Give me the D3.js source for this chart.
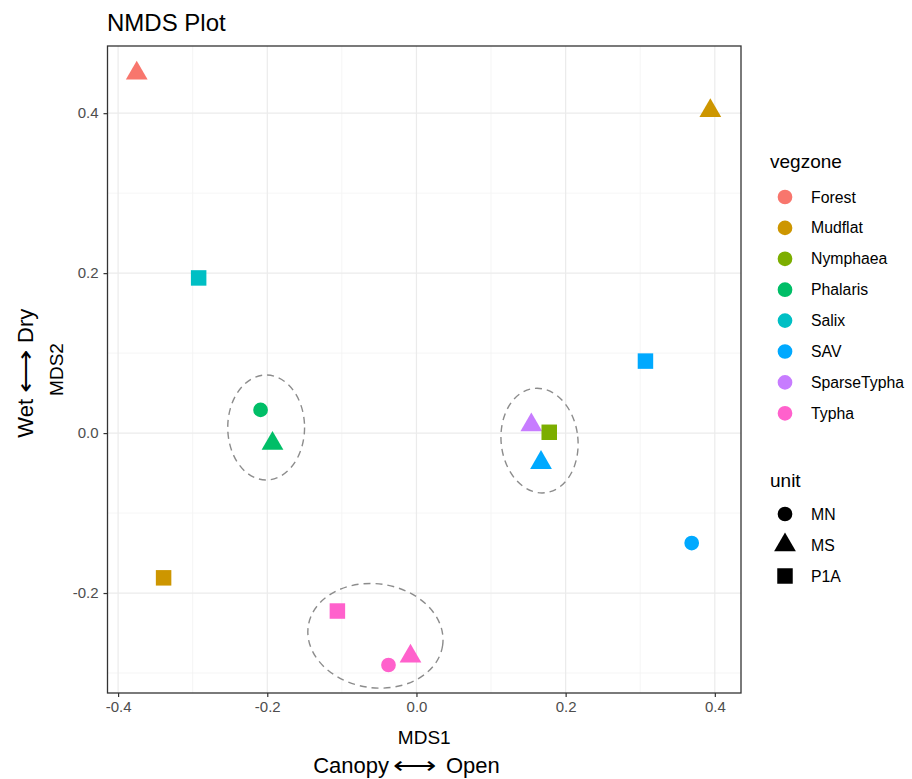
<!DOCTYPE html>
<html>
<head>
<meta charset="utf-8">
<script src="https://cdn.jsdelivr.net/npm/d3@7"></script>
<style>
  body { margin: 0; background: #fff; }
  svg { font-family: "Liberation Sans", Arial, sans-serif; }
</style>
</head>
<body>
<svg id="chart" width="912" height="779"></svg>
<script>
// NMDS site scores
const vegzone = ["Forest", "Mudflat", "Salix", "SAV", "Phalaris", "Phalaris", "SparseTypha", "Nymphaea", "SAV", "SAV", "Mudflat", "Typha", "Typha", "Typha"];
const unit    = ["MS", "MS", "P1A", "P1A", "MN", "MS", "MS", "P1A", "MS", "MN", "P1A", "P1A", "MN", "MS"];
const mds1    = [-0.375, 0.394, -0.292, 0.307, -0.209, -0.193, 0.154, 0.178, 0.167, 0.369, -0.339, -0.106, -0.0375, -0.008];
const mds2    = [0.450, 0.403, 0.194, 0.090, 0.029, -0.013, 0.010, 0.001, -0.037, -0.1375, -0.181, -0.2225, -0.290, -0.279];

// group ellipses: centre, semi-axes (data units), rotation in degrees
const ellCx  = [-0.2015, 0.165, -0.055];
const ellCy  = [0.007, -0.0094, -0.2535];
const ellRx  = [0.0515, 0.0515, 0.091];
const ellRy  = [0.0656, 0.0656, 0.065];
const ellRot = [0, -6, 8];

const vegLevels  = ["Forest", "Mudflat", "Nymphaea", "Phalaris", "Salix", "SAV", "SparseTypha", "Typha"];
const vegColors  = ["#F8766D", "#CD9600", "#7CAE00", "#00BE67", "#00BFC4", "#00A9FF", "#C77CFF", "#FF61CC"];
const unitLevels = ["MN", "MS", "P1A"];

const xTicks = [-0.4, -0.2, 0.0, 0.2, 0.4];
const yTicks = [-0.2, 0.0, 0.2, 0.4];
const xMinor = [-0.3, -0.1, 0.1, 0.3];
const yMinor = [-0.3, -0.1, 0.1, 0.3];

const svg = d3.select("#chart");
const panel = { left: 107.5, right: 741, top: 46, bottom: 693 };

const x = d3.scaleLinear().domain([-0.4142, 0.4351]).range([panel.left, panel.right]);
const y = d3.scaleLinear().domain([-0.325, 0.484]).range([panel.bottom, panel.top]);
const color = d3.scaleOrdinal().domain(vegLevels).range(vegColors);

// symbol per unit
const symType = { MN: d3.symbolCircle, MS: d3.symbolTriangle, P1A: d3.symbolSquare };
const symSize = { MN: 170, MS: 205, P1A: 240 };
function symPath(u) {
  return d3.symbol().type(symType[u]).size(symSize[u])();
}

// panel background and grid
const g = svg.append("g");
g.append("rect")
  .attr("x", panel.left).attr("y", panel.top)
  .attr("width", panel.right - panel.left).attr("height", panel.bottom - panel.top)
  .attr("fill", "#fff");

g.selectAll(".xminor").data(xMinor).join("line")
  .attr("x1", d => x(d)).attr("x2", d => x(d))
  .attr("y1", panel.top).attr("y2", panel.bottom)
  .attr("stroke", "#f2f2f2").attr("stroke-width", 0.8);
g.selectAll(".yminor").data(yMinor).join("line")
  .attr("y1", d => y(d)).attr("y2", d => y(d))
  .attr("x1", panel.left).attr("x2", panel.right)
  .attr("stroke", "#f2f2f2").attr("stroke-width", 0.8);
g.selectAll(".xmajor").data(xTicks).join("line")
  .attr("x1", d => x(d)).attr("x2", d => x(d))
  .attr("y1", panel.top).attr("y2", panel.bottom)
  .attr("stroke", "#ebebeb").attr("stroke-width", 1.2);
g.selectAll(".ymajor").data(yTicks).join("line")
  .attr("y1", d => y(d)).attr("y2", d => y(d))
  .attr("x1", panel.left).attr("x2", panel.right)
  .attr("stroke", "#ebebeb").attr("stroke-width", 1.2);

// ellipses
const ellData = ellCx.map((cx, i) => ({ cx, cy: ellCy[i], rx: ellRx[i], ry: ellRy[i], rot: ellRot[i] }));
g.selectAll(".ell").data(ellData).join("ellipse")
  .attr("transform", d => `translate(${x(d.cx)},${y(d.cy)}) rotate(${d.rot})`)
  .attr("rx", d => x(d.rx) - x(0))
  .attr("ry", d => y(0) - y(d.ry))
  .attr("fill", "none")
  .attr("stroke", "#8c8c8c")
  .attr("stroke-width", 1.4)
  .attr("stroke-dasharray", "7,5");

// points
const pts = vegzone.map((v, i) => ({ v, u: unit[i], x: mds1[i], y: mds2[i] }));
g.selectAll(".pt").data(pts).join("path")
  .attr("transform", d => `translate(${x(d.x)},${y(d.y)})`)
  .attr("d", d => symPath(d.u))
  .attr("fill", d => color(d.v));

// panel border
g.append("rect")
  .attr("x", panel.left).attr("y", panel.top)
  .attr("width", panel.right - panel.left).attr("height", panel.bottom - panel.top)
  .attr("fill", "none").attr("stroke", "#333").attr("stroke-width", 1.3);

// axes
const fmt = d => d3.format(".1f")(d).replace("\u2212", "-");
const xAxis = svg.append("g")
  .attr("transform", `translate(0,${panel.bottom})`)
  .call(d3.axisBottom(x).tickValues(xTicks).tickSize(4).tickPadding(4).tickFormat(fmt));
const yAxis = svg.append("g")
  .attr("transform", `translate(${panel.left},0)`)
  .call(d3.axisLeft(y).tickValues(yTicks).tickSize(4).tickPadding(5).tickFormat(fmt));
[xAxis, yAxis].forEach(a => {
  a.select(".domain").remove();
  a.selectAll(".tick line").attr("stroke", "#333").attr("stroke-width", 1.2);
  a.selectAll(".tick text").attr("fill", "#4d4d4d").attr("font-size", 15)
    .attr("font-family", "Liberation Sans, Arial, sans-serif");
});

// titles
svg.append("text").attr("x", 107).attr("y", 31)
  .attr("font-size", 24).attr("fill", "#000").text("NMDS Plot");
svg.append("text").attr("x", (panel.left + panel.right) / 2).attr("y", 744)
  .attr("text-anchor", "middle").attr("font-size", 19).attr("fill", "#000").text("MDS1");
svg.append("text").attr("transform", `translate(63,${(panel.top + panel.bottom) / 2}) rotate(-90)`)
  .attr("text-anchor", "middle").attr("font-size", 19).attr("fill", "#000").text("MDS2");

// gradient captions with a long double arrow between the two words
function arrowCaption(parent, left, right, endLeft, arrowMid, startRight, arrowW) {
  parent.append("text").attr("x", endLeft).attr("y", 0).attr("text-anchor", "end")
    .attr("font-size", 22).attr("fill", "#000").text(left);
  parent.append("text").attr("x", arrowMid).attr("y", 0).attr("text-anchor", "middle")
    .attr("font-size", 22).attr("fill", "#000")
    .attr("textLength", arrowW).attr("lengthAdjust", "spacingAndGlyphs").text("\u27F7");
  parent.append("text").attr("x", startRight).attr("y", 0).attr("text-anchor", "start")
    .attr("font-size", 22).attr("fill", "#000").text(right);
}
arrowCaption(svg.append("g").attr("transform", "translate(0,773)"),
  "Canopy", "Open", 389, 415, 446, 44);
arrowCaption(svg.append("g").attr("transform", "translate(33,0) rotate(-90)"),
  "Wet", "Dry", -399, -371, -343, 44);

// legends
const leg1 = svg.append("g");
leg1.append("text").attr("x", 770).attr("y", 168).attr("font-size", 19).text("vegzone");
const vegItems = leg1.selectAll(".vi").data(vegLevels).join("g")
  .attr("transform", (d, i) => `translate(785,${197 + i * 30.9})`);
vegItems.append("path").attr("d", symPath("MN")).attr("fill", d => color(d));
vegItems.append("text").attr("x", 26).attr("y", 5.5).attr("font-size", 15.8).attr("fill", "#000").text(d => d);

const leg2 = svg.append("g");
leg2.append("text").attr("x", 770).attr("y", 487).attr("font-size", 19).text("unit");
const unitItems = leg2.selectAll(".ui").data(unitLevels).join("g")
  .attr("transform", (d, i) => `translate(785,${514 + i * 31})`);
unitItems.append("path").attr("d", d => symPath(d)).attr("fill", "#000");
unitItems.append("text").attr("x", 26).attr("y", 5.5).attr("font-size", 15.8).attr("fill", "#000").text(d => d);
</script>
</body>
</html>
